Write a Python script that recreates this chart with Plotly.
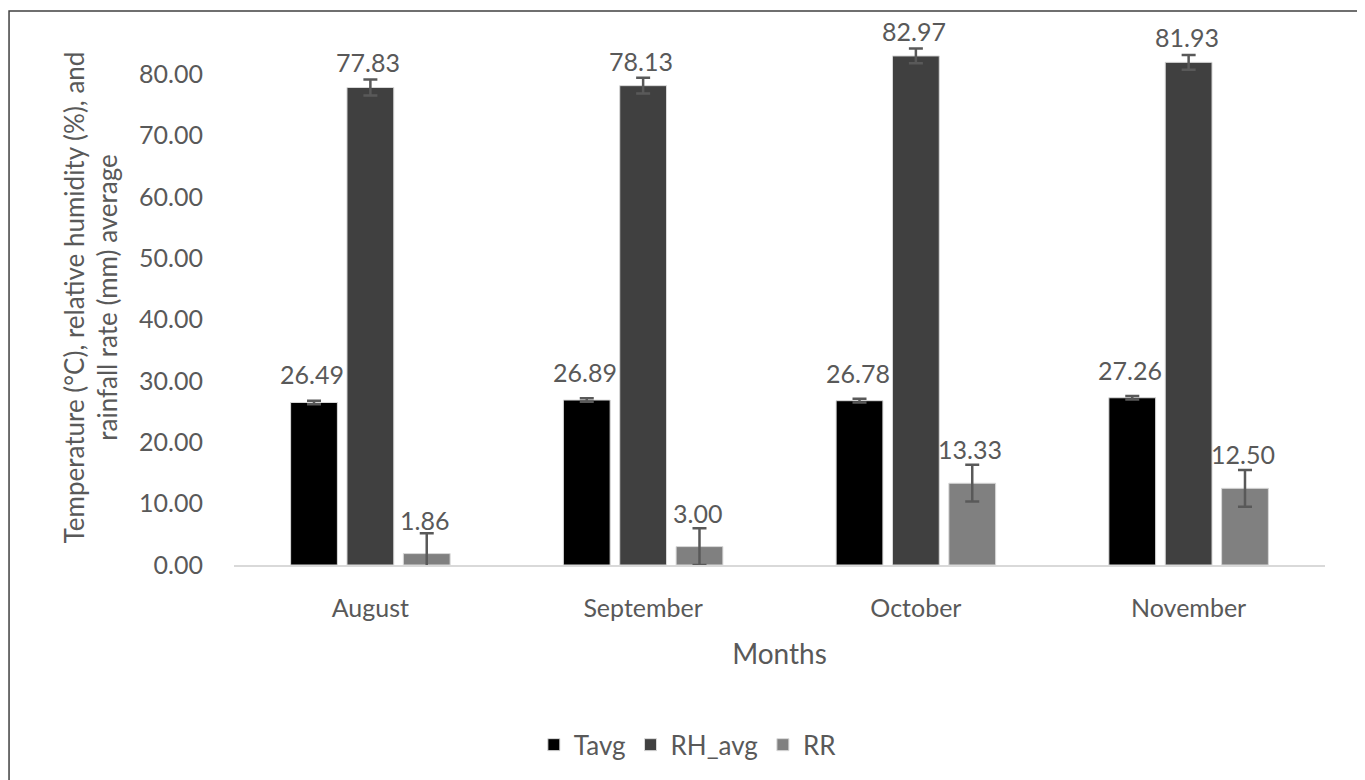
import plotly.graph_objects as go

months = ["August", "September", "October", "November"]
tavg = [26.49, 26.89, 26.78, 27.26]
rh_avg = [77.83, 78.13, 82.97, 81.93]
rr = [1.86, 3.00, 13.33, 12.50]

tavg_err = [0.3, 0.3, 0.3, 0.3]
rh_err = [1.3, 1.3, 1.2, 1.2]
rr_err = [3.3, 3.0, 3.0, 3.0]

series = [
    ("Tavg", tavg, tavg_err, "#000000", 28),
    ("RH_avg", rh_avg, rh_err, "#404040", 25),
    ("RR", rr, rr_err, "#808080", 34),
]

font_name = "Lato"
text_color = "#595959"

# plot area size, used to line the value labels up with the grouped bars
plot_w = 1091
bargap = 0.38
slot_px = plot_w / len(months) * (1 - bargap) / len(series)

fig = go.Figure()
annotations = []
for j, (name, values, errs, color, lift) in enumerate(series):
    fig.add_trace(
        go.Bar(x=months, y=values, name=name,
               marker=dict(color=color, line=dict(color="#d9d9d9", width=1)),
               error_y=dict(type="data", array=errs, color="#595959",
                            thickness=2.5, width=7))
    )
    for m, v in zip(months, values):
        annotations.append(dict(
            x=m, y=v, text=f"{v:.2f}", showarrow=False,
            xshift=(j - 1) * slot_px - 2, yshift=lift, yanchor="middle",
            font=dict(size=25, color=text_color, family=font_name)))

# page body adds an 8px offset, margins are set with that in mind
fig.update_layout(
    width=1365, height=780,
    barmode="group", bargap=bargap, bargroupgap=0.17,
    plot_bgcolor="white", paper_bgcolor="white",
    margin=dict(l=226, r=48, t=22, b=223, autoexpand=False),
    font=dict(family=font_name, color=text_color),
    legend=dict(orientation="h", x=0.416, xanchor="center", y=-0.336,
                yanchor="middle", font=dict(size=26, color=text_color),
                itemwidth=30, traceorder="normal"),
    annotations=annotations,
    shapes=[dict(type="rect", xref="paper", yref="paper",
                 x0=-0.2062, x1=1.033, y0=-0.45, y1=1.0355,
                 line=dict(color="#404040", width=1.5))],
)
fig.update_xaxes(
    automargin=False,
    showline=True, linecolor="#d9d9d9", linewidth=2,
    tickfont=dict(size=25, color=text_color), ticklabelstandoff=20,
    title=dict(text="Months", font=dict(size=28, color=text_color), standoff=23),
)
fig.update_yaxes(
    automargin=False,
    range=[0, 87.2], tickvals=[0, 10, 20, 30, 40, 50, 60, 70, 80],
    tickformat=".2f", showgrid=False, zeroline=False, showline=False,
    tickfont=dict(size=25, color=text_color), ticklabelstandoff=30,
    title=dict(text="Temperature (°C), relative humidity (%), and<br>rainfall rate (mm) average",
               font=dict(size=26, color=text_color), standoff=13),
)

fig.write_html("out.html")
